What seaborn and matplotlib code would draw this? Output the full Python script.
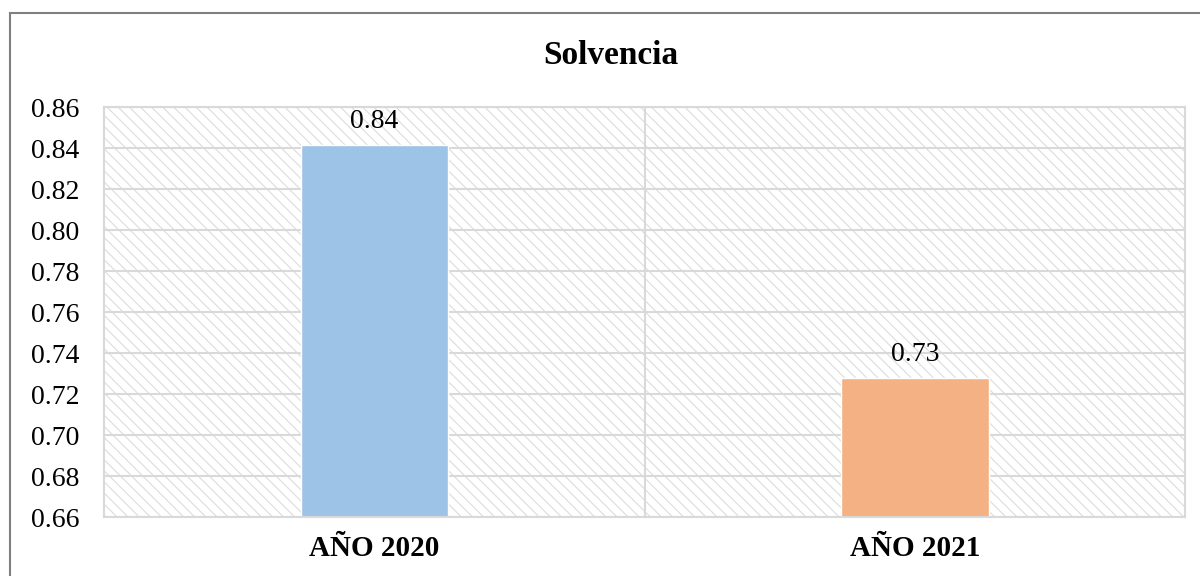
#!/usr/bin/env python3
"""Solvencia bar chart, 2020 vs 2021."""

import matplotlib

matplotlib.use("Agg")

import matplotlib.pyplot as plt
import pandas as pd
import seaborn as sns
from matplotlib.patches import Rectangle

YEARS = ["AÑO 2020", "AÑO 2021"]
SOLVENCIA = [0.8415, 0.7278]
BAR_COLORS = ["#9dc3e6", "#f4b183"]
Y_TICKS = [0.66, 0.68, 0.70, 0.72, 0.74, 0.76, 0.78, 0.80, 0.82, 0.84, 0.86]

GRID = "#d9d9d9"


def setup_style() -> None:
    sns.set_theme(style="white")
    plt.rcParams.update(
        {
            "font.family": ["Liberation Serif", "DejaVu Serif"],
            "hatch.linewidth": 0.8,
            "text.color": "black",
            "xtick.color": "black",
            "ytick.color": "black",
        }
    )


def main() -> None:
    setup_style()
    data = pd.DataFrame({"year": YEARS, "value": SOLVENCIA})

    fig = plt.figure(figsize=(12, 5.76), dpi=100)
    ax = fig.add_axes([0.0867, 0.1024, 0.9008, 0.7118])

    # outer chart frame
    fig.add_artist(Rectangle((10 / 1200, -0.05), 1.2, 1 - 13 / 576 + 0.05,
                             transform=fig.transFigure, fill=False,
                             edgecolor="#808080", linewidth=1.5))

    # hatched plot background
    ax.add_patch(Rectangle((0, 0), 1, 1, transform=ax.transAxes, facecolor="white",
                           edgecolor="#dcdcdc", hatch="\\\\\\", linewidth=0, zorder=0.1))

    sns.barplot(data=data, x="year", y="value", hue="year", palette=BAR_COLORS,
                width=0.273, legend=False, ax=ax, zorder=2, saturation=1)

    ax.set_ylim(Y_TICKS[0], Y_TICKS[-1])
    ax.set_xlim(-0.5, 1.5)
    ax.set_yticks(Y_TICKS)
    ax.set_yticklabels([f"{t:.2f}" for t in Y_TICKS], fontsize=20)
    ax.set_xticks(range(len(YEARS)))
    ax.set_xticklabels(YEARS, fontsize=21, fontweight="bold")
    ax.tick_params(axis="both", length=0)
    ax.tick_params(axis="y", pad=18)
    ax.tick_params(axis="x", pad=13)
    ax.set_xlabel("")
    ax.set_ylabel("")

    ax.set_axisbelow(True)
    ax.yaxis.grid(True, color=GRID, linewidth=1.5, zorder=0.5)
    ax.axvline(0.5, color=GRID, linewidth=1.5, zorder=0.5)
    for spine in ax.spines.values():
        spine.set_visible(True)
        spine.set_color(GRID)
        spine.set_linewidth(1.5)

    for container in ax.containers:
        ax.bar_label(container, fmt="%.2f", padding=8, fontsize=20)

    fig.text(0.509, 1 - 55 / 576, "Solvencia", ha="center", va="center",
             fontsize=24, fontweight="bold")

    fig.savefig("out.png", dpi=100)
    plt.close(fig)


if __name__ == "__main__":
    main()
